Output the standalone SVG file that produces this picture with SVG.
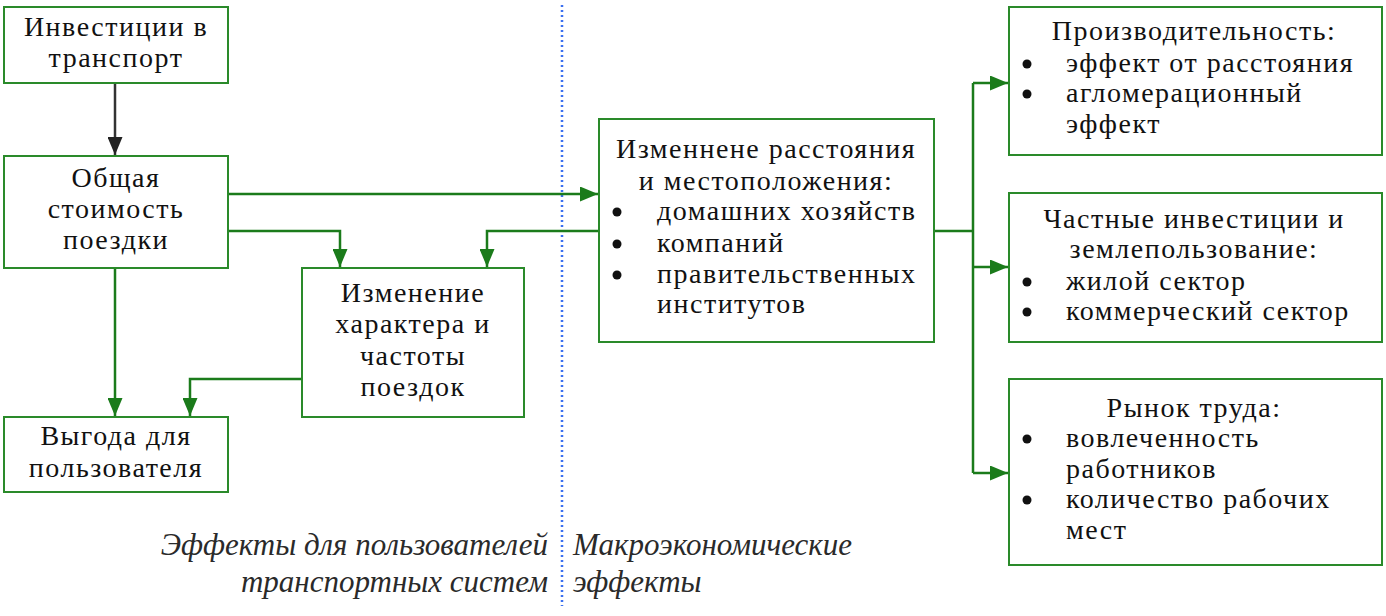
<svg xmlns="http://www.w3.org/2000/svg" width="1386" height="616" viewBox="0 0 1386 616">
<style>
.box{fill:#fff;stroke:#2a8a2a;stroke-width:2}
.t{font-family:"Liberation Serif","DejaVu Serif",serif;font-size:28px;letter-spacing:1.5px;fill:#111}
.c{text-anchor:middle}
.it{font-family:"Liberation Serif","DejaVu Serif",serif;font-size:31px;font-style:italic;fill:#2a2a2a}
.r{text-anchor:end}
.ln{fill:none;stroke:#1b7b1b;stroke-width:2.5}
.lnb{fill:none;stroke:#333;stroke-width:2.5}
.bul{fill:#111}
</style>
<defs>
<marker id="ag" markerUnits="userSpaceOnUse" markerWidth="19" markerHeight="15" refX="18" refY="7.5" orient="auto">
<path d="M0,0 L18,7.5 L0,15 z" fill="#1b7b1b"/>
</marker>
<marker id="ab" markerUnits="userSpaceOnUse" markerWidth="19" markerHeight="15" refX="18" refY="7.5" orient="auto">
<path d="M0,0 L18,7.5 L0,15 z" fill="#222"/>
</marker>
</defs>
<rect width="1386" height="616" fill="#fff"/>
<line x1="562" y1="5" x2="562" y2="606" stroke="#3a6ff0" stroke-width="2.5" stroke-dasharray="2 3"/>
<g id="connectors">
<path class="lnb" d="M115,83 V155" marker-end="url(#ab)"/>
<path class="ln" d="M228,194 H598" marker-end="url(#ag)"/>
<path class="ln" d="M228,231 H340 V267" marker-end="url(#ag)"/>
<path class="ln" d="M598,231 H487 V267" marker-end="url(#ag)"/>
<path class="ln" d="M115,268 V416" marker-end="url(#ag)"/>
<path class="ln" d="M302,379 H190 V416" marker-end="url(#ag)"/>
<path class="ln" d="M934,231 H973 M973,83 V473"/>
<path class="ln" d="M973,83 H1008" marker-end="url(#ag)"/>
<path class="ln" d="M973,267 H1008" marker-end="url(#ag)"/>
<path class="ln" d="M973,473 H1008" marker-end="url(#ag)"/>
</g>
<g id="n1">
<rect class="box" x="4" y="7" width="224" height="76"/>
<text class="t c" x="116" y="36">Инвестиции в</text>
<text class="t c" x="116" y="67">транспорт</text>
</g>
<g id="n2">
<rect class="box" x="4" y="156" width="224" height="112"/>
<text class="t c" x="116" y="187">Общая</text>
<text class="t c" x="116" y="218">стоимость</text>
<text class="t c" x="116" y="249">поездки</text>
</g>
<g id="n3">
<rect class="box" x="302" y="268" width="222" height="149"/>
<text class="t c" x="413" y="302">Изменение</text>
<text class="t c" x="413" y="333">характера и</text>
<text class="t c" x="413" y="365">частоты</text>
<text class="t c" x="413" y="396">поездок</text>
</g>
<g id="n4">
<rect class="box" x="4" y="417" width="224" height="75"/>
<text class="t c" x="116" y="445">Выгода для</text>
<text class="t c" x="116" y="477">пользователя</text>
</g>
<g id="n5">
<rect class="box" x="599" y="119" width="335" height="223"/>
<text class="t c" x="766" y="158">Изменнене расстояния</text>
<text class="t c" x="766" y="190">и местоположения:</text>
<circle class="bul" cx="617" cy="212" r="4.5"/>
<text class="t" x="657" y="220">домашних хозяйств</text>
<circle class="bul" cx="617" cy="244" r="4.5"/>
<text class="t" x="657" y="252">компаний</text>
<circle class="bul" cx="617" cy="275" r="4.5"/>
<text class="t" x="657" y="283">правительственных</text>
<text class="t" x="657" y="313">институтов</text>
</g>
<g id="n6">
<rect class="box" x="1009" y="7" width="373" height="148"/>
<text class="t c" x="1194" y="40">Производительность:</text>
<circle class="bul" cx="1027" cy="64" r="4.5"/>
<text class="t" x="1066" y="72">эффект от расстояния</text>
<circle class="bul" cx="1027" cy="94" r="4.5"/>
<text class="t" x="1066" y="102">агломерационный</text>
<text class="t" x="1066" y="133">эффект</text>
</g>
<g id="n7">
<rect class="box" x="1009" y="193" width="373" height="149"/>
<text class="t c" x="1194" y="228">Частные инвестиции и</text>
<text class="t c" x="1194" y="258">землепользование:</text>
<circle class="bul" cx="1027" cy="282" r="4.5"/>
<text class="t" x="1066" y="290">жилой сектор</text>
<circle class="bul" cx="1027" cy="312" r="4.5"/>
<text class="t" x="1066" y="320">коммерческий сектор</text>
</g>
<g id="n8">
<rect class="box" x="1009" y="379" width="373" height="186"/>
<text class="t c" x="1194" y="417">Рынок труда:</text>
<circle class="bul" cx="1027" cy="439" r="4.5"/>
<text class="t" x="1066" y="447">вовлеченность</text>
<text class="t" x="1066" y="478">работников</text>
<circle class="bul" cx="1027" cy="500" r="4.5"/>
<text class="t" x="1066" y="508">количество рабочих</text>
<text class="t" x="1066" y="539">мест</text>
</g>
<g id="labels">
<text class="it r" x="548" y="555">Эффекты для пользователей</text>
<text class="it r" x="548" y="592">транспортных систем</text>
<text class="it" x="573" y="555">Макроэкономические</text>
<text class="it" x="573" y="592">эффекты</text>
</g>
</svg>
